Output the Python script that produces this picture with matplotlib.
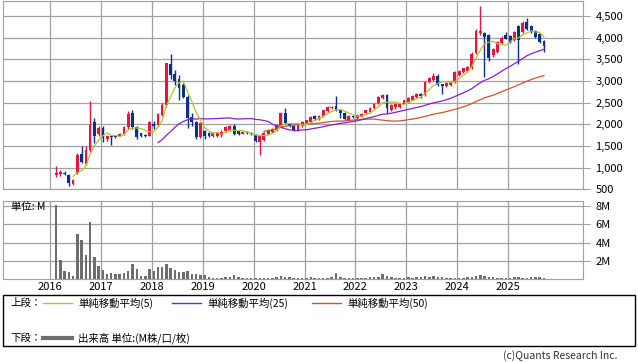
import numpy as np
import pandas as pd
import matplotlib
matplotlib.use("Agg")
import matplotlib.pyplot as plt
import matplotlib.dates as mdates
from matplotlib.lines import Line2D
from matplotlib.patches import Rectangle

plt.rcParams['font.family'] = ['Noto Sans CJK JP', 'DejaVu Sans']

# 月足データ (2016/02 - 2025/09)
inicio = '2016-02-01'
opens = [840, 860, 880, 840, 620, 885, 1320, 1080, 1400, 2050, 1770, 1910, 1660, 1730, 1730, 1740,
         1770, 1930, 2250, 1930, 1790, 1760, 1730, 2000, 1980, 2210, 2440, 3390, 3150, 3040, 2900, 2640,
         2180, 2050, 1710, 1850, 1800, 1720, 1720, 1760, 1850, 1850, 1950, 1840, 1780, 1820, 1800, 1750,
         1600, 1640, 1780, 1830, 1870, 1960, 2260, 2020, 1960, 1870, 1960, 2020, 2050, 2200, 2130, 2190,
         2300, 2380, 2420, 2320, 2260, 2110, 2200, 2150, 2180, 2250, 2290, 2370, 2490, 2600, 2680, 2330,
         2390, 2400, 2480, 2520, 2570, 2620, 2700, 2680, 2980, 3020, 3110, 2920, 2880, 2900, 2980, 3140,
         3210, 3230, 3290, 3640, 4100, 4110, 4050, 3600, 3680, 3880, 4050, 4030, 3950, 4280, 4130, 4360,
         4260, 4150, 4090, 3920]
highs = [1030, 950, 920, 860, 740, 1330, 1500, 1500, 2530, 2140, 1960, 1950, 1750, 1760, 1750, 1800,
         1960, 2300, 2330, 1960, 1810, 1780, 2080, 2080, 2250, 2490, 3420, 3620, 3250, 3130, 2950, 2680,
         2250, 2070, 2050, 1870, 1830, 1820, 1820, 1870, 1950, 1980, 2000, 1860, 1840, 1840, 1820, 1780,
         1750, 1830, 1900, 1920, 2000, 2280, 2370, 2040, 1980, 2020, 2070, 2110, 2200, 2220, 2220, 2340,
         2420, 2430, 2650, 2340, 2280, 2220, 2220, 2230, 2250, 2340, 2400, 2500, 2650, 2700, 2700, 2460,
         2480, 2480, 2570, 2620, 2680, 2720, 2720, 3000, 3100, 3180, 3150, 2940, 2980, 3000, 3230, 3260,
         3310, 3350, 3660, 4200, 4730, 4140, 4080, 3760, 3930, 4030, 4130, 4050, 4160, 4300, 4380, 4450,
         4290, 4180, 4110, 3940]
lows = [780, 800, 820, 576, 600, 860, 1100, 1050, 1350, 1560, 1740, 1600, 1620, 1520, 1680, 1720,
        1750, 1900, 1900, 1650, 1700, 1700, 1720, 1900, 1950, 2190, 2400, 3050, 2900, 2560, 2600, 1910,
        1950, 1650, 1690, 1660, 1700, 1700, 1700, 1710, 1830, 1840, 1760, 1760, 1770, 1770, 1750, 1590,
        1290, 1620, 1760, 1810, 1850, 1940, 2000, 1940, 1850, 1850, 1940, 2000, 2030, 2110, 2110, 2170,
        2280, 2360, 2310, 2140, 2100, 2090, 2150, 2130, 2160, 2230, 2270, 2350, 2470, 2580, 2250, 2300,
        2350, 2380, 2460, 2500, 2550, 2600, 2600, 2650, 2960, 3000, 2880, 2710, 2850, 2880, 2960, 3120,
        3190, 3210, 3270, 3620, 4050, 3090, 3460, 3560, 3650, 3860, 3960, 3880, 3930, 3400, 4100, 4180,
        4100, 3990, 3880, 3670]
closes = [880, 890, 850, 650, 720, 1300, 1130, 1400, 1980, 1720, 1910, 1680, 1720, 1700, 1700, 1780,
          1930, 2230, 1930, 1700, 1730, 1720, 2050, 1950, 2230, 2440, 3410, 3130, 2990, 2840, 2620, 2140,
          2050, 1710, 2020, 1720, 1720, 1800, 1800, 1830, 1930, 1960, 1780, 1780, 1820, 1790, 1770, 1620,
          1720, 1810, 1880, 1900, 1980, 2250, 2020, 1960, 1870, 2000, 2050, 2090, 2180, 2130, 2200, 2320,
          2400, 2410, 2330, 2250, 2120, 2200, 2170, 2210, 2230, 2320, 2380, 2480, 2620, 2680, 2370, 2440,
          2460, 2460, 2550, 2600, 2650, 2690, 2650, 2970, 3060, 3110, 2910, 2880, 2950, 2980, 3200, 3230,
          3290, 3320, 3630, 4150, 4150, 4020, 3520, 3730, 3900, 4000, 3980, 3910, 4130, 3950, 4340, 4210,
          4140, 4020, 3900, 3800]
# 出来高 (M)
volumes = [8.15, 2.1, 0.93, 0.78, 0.37, 5.0, 4.33, 2.67, 6.22, 2.48, 1.48, 1.0, 0.63, 0.7, 0.63, 0.63,
           0.67, 0.93, 1.67, 1.11, 0.37, 0.37, 1.11, 0.93, 1.37, 1.37, 1.67, 1.22, 1.0, 0.85, 0.85, 0.93,
           0.63, 0.56, 0.44, 0.48, 0.26, 0.19, 0.11, 0.19, 0.26, 0.26, 0.44, 0.26, 0.11, 0.11, 0.11, 0.11,
           0.19, 0.15, 0.15, 0.19, 0.3, 0.37, 0.26, 0.22, 0.15, 0.15, 0.19, 0.15, 0.22, 0.15, 0.11, 0.15,
           0.19, 0.3, 0.67, 0.26, 0.19, 0.15, 0.11, 0.15, 0.15, 0.19, 0.22, 0.26, 0.3, 0.56, 0.37, 0.22,
           0.19, 0.15, 0.15, 0.22, 0.19, 0.22, 0.3, 0.37, 0.26, 0.41, 0.3, 0.22, 0.19, 0.15, 0.19, 0.15,
           0.15, 0.26, 0.3, 0.37, 0.44, 0.37, 0.3, 0.22, 0.19, 0.15, 0.11, 0.19, 0.22, 0.26, 0.15, 0.19,
           0.22, 0.26, 0.22, 0.15]
anos = list(range(2016, 2026))
precos_ticks = [500, 1000, 1500, 2000, 2500, 3000, 3500, 4000, 4500]
vol_ticks = [2, 4, 6, 8]

cor_alta = '#e8143c'
cor_baixa = '#0d2f8c'
cor_ma5 = '#b0c62e'
cor_ma25 = '#8a1ec8'
cor_ma50 = '#d2522a'
cor_grid = '#a0a0a0'

df = pd.DataFrame({'o': opens, 'h': highs, 'l': lows, 'c': closes, 'v': volumes})
meses = pd.date_range(inicio, periods=len(df), freq='MS') + pd.Timedelta(days=14)
x = mdates.date2num(meses)
ma5 = df['c'].rolling(5).mean().to_numpy()
ma25 = df['c'].rolling(25).mean().to_numpy()
ma50 = df['c'].rolling(50).mean().to_numpy()

W, H = 638, 362
fig = plt.figure(figsize=(W / 100, H / 100), dpi=100)
ax = fig.add_axes([3 / W, 1 - 189.3 / H, 580 / W, 188.3 / H])
axv = fig.add_axes([3 / W, 1 - 279.3 / H, 580 / W, 78.3 / H])

xmin = mdates.date2num(pd.Timestamp('2015-01-29'))
xmax = mdates.date2num(pd.Timestamp('2026-06-22'))
ticks_anos = mdates.date2num([pd.Timestamp(f'{a}-01-01') for a in anos])
for a in (ax, axv):
    a.set_xlim(xmin, xmax)
    a.xaxis.set_major_locator(plt.FixedLocator(ticks_anos))
    a.grid(True, color=cor_grid, lw=0.9)
    a.set_axisbelow(True)
    for s in a.spines.values():
        s.set_color(cor_grid)
    a.yaxis.tick_right()
    a.tick_params(axis='y', length=5, color=cor_grid, labelsize=8, pad=4)
    a.tick_params(axis='x', length=0, top=False, labeltop=False)
ax.tick_params(axis='x', labelbottom=False)

# Velas
cores = [cor_alta if c >= o else cor_baixa for o, c in zip(opens, closes)]
ax.vlines(x, lows, highs, colors=cores, lw=1, zorder=3)
corpo = np.maximum(np.abs(np.array(closes) - np.array(opens)), 18)
ax.bar(x, corpo, bottom=np.minimum(opens, closes), width=20, color=cores, zorder=4)

ax.plot(x, ma50, color=cor_ma50, lw=0.9, zorder=5)
ax.plot(x, ma25, color=cor_ma25, lw=0.9, zorder=5)
ax.plot(x, ma5, color=cor_ma5, lw=0.9, zorder=5)

ax.set_ylim(500, 4846)
ax.set_yticks(precos_ticks)
ax.set_yticklabels([f'{p:,}' for p in precos_ticks])

# Volume
axv.bar(x, volumes, width=18, color='#6e6e6e', zorder=3)
axv.set_ylim(0, 8.55)
axv.set_yticks(vol_ticks)
axv.set_yticklabels([f'{v}M' for v in vol_ticks])
axv.xaxis.set_major_formatter(plt.FixedFormatter([str(a) for a in anos]))
axv.tick_params(axis='x', pad=2, labelsize=8)
axv.text(8 / 580, 0.93, '単位: M', transform=axv.transAxes, fontsize=7.5, va='center', ha='left')

# Legenda
fig.add_artist(Rectangle((3 / W, 1 - 346 / H), 632 / W, 51 / H, transform=fig.transFigure,
                         fill=False, edgecolor='black', lw=1))


def px(xp, yp):
    return xp / W, 1 - yp / H


y1, y2 = 303, 338
fig.text(*px(10, y1), '上段：', fontsize=7.5, va='center')
for x0, x1, cor, txt in [(43, 72, cor_ma5, '単純移動平均(5)'),
                         (172, 201, cor_ma25, '単純移動平均(25)'),
                         (312, 341, cor_ma50, '単純移動平均(50)')]:
    fig.add_artist(Line2D([x0 / W, x1 / W], [1 - y1 / H] * 2, color=cor, lw=1, transform=fig.transFigure))
    fig.text(*px(x1 + 6, y1), txt, fontsize=7.5, va='center')
fig.text(*px(10, y2), '下段：', fontsize=7.5, va='center')
fig.add_artist(Line2D([43 / W, 72 / W], [1 - y2 / H] * 2, color='#6e6e6e', lw=3, transform=fig.transFigure))
fig.text(*px(78, y2), '出来高 単位:(M株/口/枚)', fontsize=7.5, va='center')

fig.text(*px(617, 356), '(c)Quants Research Inc.', fontsize=7.5, va='center', ha='right', color='#333333')

fig.savefig('out.png', dpi=100)
